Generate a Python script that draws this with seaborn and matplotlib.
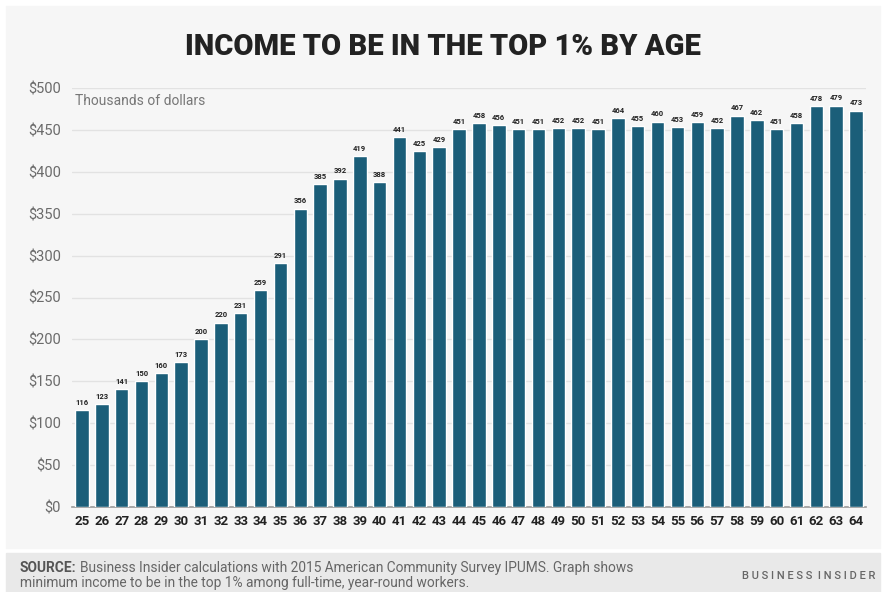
import matplotlib
matplotlib.use('Agg')
import matplotlib.pyplot as plt
from matplotlib.patches import Rectangle
import seaborn as sns
import pandas as pd

ages = list(range(25, 65))
income = [116, 123, 141, 150, 160, 173, 200, 220, 231, 259,
          291, 356, 385, 392, 419, 388, 441, 425, 429, 451,
          458, 456, 451, 451, 452, 452, 451, 464, 455, 460,
          453, 459, 452, 467, 462, 451, 458, 478, 479, 473]
y_ticks = [0, 50, 100, 150, 200, 250, 300, 350, 400, 450, 500]

BAR_COLOR = '#1b5e79'
BG = '#f6f6f6'

sns.set_style('white')
plt.rcParams['font.family'] = ['Roboto', 'DejaVu Sans']

df = pd.DataFrame({'age': [str(a) for a in ages], 'income': income})

fig = plt.figure(figsize=(8.86, 5.92), dpi=100)
fig.patch.set_facecolor('white')
# light panel and footer band
fig.patches.append(Rectangle((6 / 886, 1 - 548 / 592), 874 / 886, 542 / 592,
                             transform=fig.transFigure, color=BG, zorder=-5))
fig.patches.append(Rectangle((6 / 886, 0), 874 / 886, 39 / 592,
                             transform=fig.transFigure, color='#e9e9e9', zorder=-5))

ax = fig.add_axes([72 / 886, 1 - 507 / 592, 794 / 886, 419 / 592])
ax.set_zorder(2)
ax.set_facecolor(BG)
sns.barplot(data=df, x='age', y='income', color=BAR_COLOR, width=0.68,
            saturation=1, ax=ax, zorder=3)

ax.set_ylim(0, 500)
ax.set_xlim(-0.5, len(ages) - 0.5)
ax.set_yticks(y_ticks)
ax.set_yticklabels([f'${v}' for v in y_ticks], color='#6b6b6b', fontsize=10.5)
ax.tick_params(axis='y', length=0, pad=8)
ax.tick_params(axis='x', length=0, pad=6)
for lbl in ax.get_xticklabels():
    lbl.set_fontweight('bold')
    lbl.set_fontsize(9.5)
    lbl.set_color('#222222')
ax.yaxis.grid(True, color='#e2e2e2', linewidth=1, zorder=0)
ax.set_axisbelow(True)
ax.set_xlabel('')
ax.set_ylabel('')
for side in ['top', 'right', 'left']:
    ax.spines[side].set_visible(False)
ax.spines['bottom'].set_color('#9a9a9a')
ax.spines['bottom'].set_linewidth(1.2)

for i, v in enumerate(income):
    ax.text(i, v + 5, str(v), ha='center', va='bottom', fontsize=5.5,
            fontweight='bold', color='#222222', zorder=4)

ax.text(0.004, 0.985, 'Thousands of dollars', transform=ax.transAxes,
        ha='left', va='top', fontsize=10, color='#777777')

fig.text(0.5, 1 - 47 / 592, 'INCOME TO BE IN THE TOP 1% BY AGE', ha='center',
         va='center', fontsize=21, fontweight='heavy', color='#222222')

src = fig.text(20 / 886, 1 - 568 / 592, 'SOURCE:', ha='left', va='center',
               fontsize=9.9, fontweight='bold', color='#555555')
fig.canvas.draw()
x_end = src.get_window_extent().x1 / fig.bbox.width
fig.text(x_end + 3 / 886, 1 - 568 / 592,
         'Business Insider calculations with 2015 American Community Survey IPUMS. Graph shows',
         ha='left', va='center', fontsize=9.9, color='#666666')
fig.text(20 / 886, 1 - 583 / 592,
         'minimum income to be in the top 1% among full-time, year-round workers.',
         ha='left', va='center', fontsize=9.9, color='#666666')
fig.text(875 / 886, 1 - 576 / 592, 'B U S I N E S S  I N S I D E R',
         ha='right', va='center', fontsize=8, fontweight='medium', color='#666666')

fig.savefig('out.png', dpi=100, facecolor=fig.get_facecolor())
